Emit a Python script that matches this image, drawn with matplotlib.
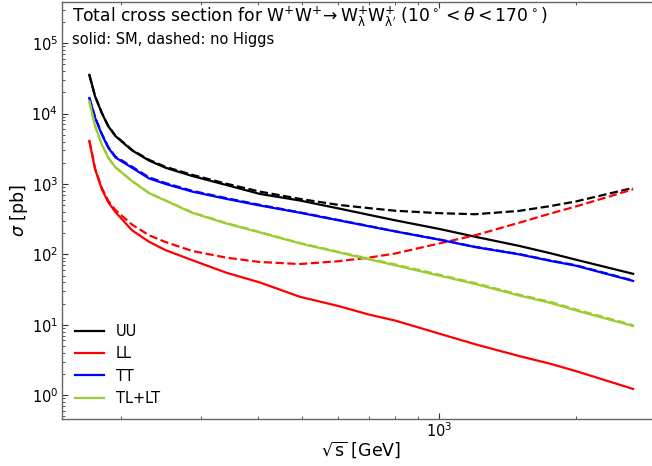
import matplotlib
matplotlib.use("Agg")
import matplotlib.pyplot as plt
from matplotlib.ticker import NullFormatter

# sqrt(s) in GeV
energy = [170, 175, 181, 187, 194, 211, 230, 250, 286, 340, 403, 494, 600, 700,
          800, 1000, 1200, 1500, 1755, 2000, 2670]

uu_sm = [35400, 17500, 10200, 6620, 4790, 3000, 2150, 1700, 1300, 968, 723, 582,
         450, 365, 305, 230, 178, 132, 104, 84, 53]
uu_noh = [35400, 17600, 10300, 6700, 4850, 3050, 2200, 1750, 1350, 1010, 780, 614,
          505, 454, 417, 385, 372, 415, 485, 565, 880]

ll_sm = [4080, 1620, 850, 552, 399, 220, 151, 115, 83, 55, 40, 25, 18.5, 14,
         11.5, 7.5, 5.3, 3.6, 2.8, 2.2, 1.23]
ll_noh = [4100, 1650, 880, 580, 425, 265, 187, 150, 112, 90, 78, 73, 80, 90,
          103, 143, 187, 282, 380, 480, 840]

tt_sm = [16600, 8700, 5060, 3290, 2380, 1700, 1200, 1000, 780, 615, 495, 390,
         305, 251, 212, 162, 127, 100, 81, 69, 42]
tt_noh = [16800, 8900, 5200, 3380, 2450, 1760, 1240, 1030, 800, 630, 505, 395,
          308, 253, 213, 163, 128, 101, 82, 70, 42.5]

tl_sm = [14900, 6620, 3660, 2380, 1720, 1100, 740, 580, 390, 275, 205, 143,
         107, 85, 70, 50, 38, 26, 20.5, 16, 9.6]
tl_noh = [14900, 6620, 3660, 2380, 1725, 1105, 745, 585, 395, 279, 208, 145,
          109, 87, 72, 51.5, 39.2, 26.8, 21.2, 16.5, 9.9]

labels = ["UU", "LL", "TT", "TL+LT"]
colors = ["black", "red", "blue", "yellowgreen"]
y_major = [1, 10, 100, 1000, 10000, 100000]
x_major = [1000]

fig = plt.figure(figsize=(6.52, 4.66), dpi=100)
ax = fig.add_axes([62 / 652, 47 / 466, 598 / 652, 417.5 / 466])

series = [(uu_sm, uu_noh), (ll_sm, ll_noh), (tt_sm, tt_noh), (tl_sm, tl_noh)]
for (sm, noh), lab, col in zip(series, labels, colors):
    ax.plot(energy, sm, color=col, lw=1.6, label=lab)
    ax.plot(energy, noh, color=col, lw=1.6, ls="--")

ax.set_xscale("log")
ax.set_yscale("log")
ax.set_xlim(148, 3060)
ax.set_ylim(0.46, 3.9e5)
ax.set_yticks(y_major)
ax.set_xticks(x_major)
ax.xaxis.set_minor_formatter(NullFormatter())
ax.yaxis.set_minor_formatter(NullFormatter())

ax.tick_params(which="both", direction="in", top=True, right=True, labelsize=10.5,
               color="0.2")
ax.tick_params(axis="x", which="both", pad=2)
ax.tick_params(axis="y", which="both", pad=2.8)
ax.tick_params(which="major", length=4.5)
ax.tick_params(which="minor", length=2.5)
for sp in ax.spines.values():
    sp.set_color("0.4")
    sp.set_linewidth(1.0)

ax.set_xlabel(r"$\sqrt{\mathrm{s}}$ [GeV]", fontsize=12.5, labelpad=-1)
ax.set_ylabel(r"$\sigma$ [pb]", fontsize=12.5)
ax.yaxis.set_label_coords(-0.054, 0.5)

ax.text(0.017, 0.992,
        r"Total cross section for $\mathrm{W^{+}W^{+}\!\to W^{+}_{\lambda}W^{+}_{\lambda'}}$ $(10^\circ < \theta < 170^\circ)$",
        transform=ax.transAxes, ha="left", va="top", fontsize=12.3)
ax.text(0.017, 0.928, "solid: SM, dashed: no Higgs", transform=ax.transAxes,
        ha="left", va="top", fontsize=10.5)

ax.legend(loc="lower left", frameon=False, fontsize=10.5)

fig.savefig("out.png", dpi=100)
